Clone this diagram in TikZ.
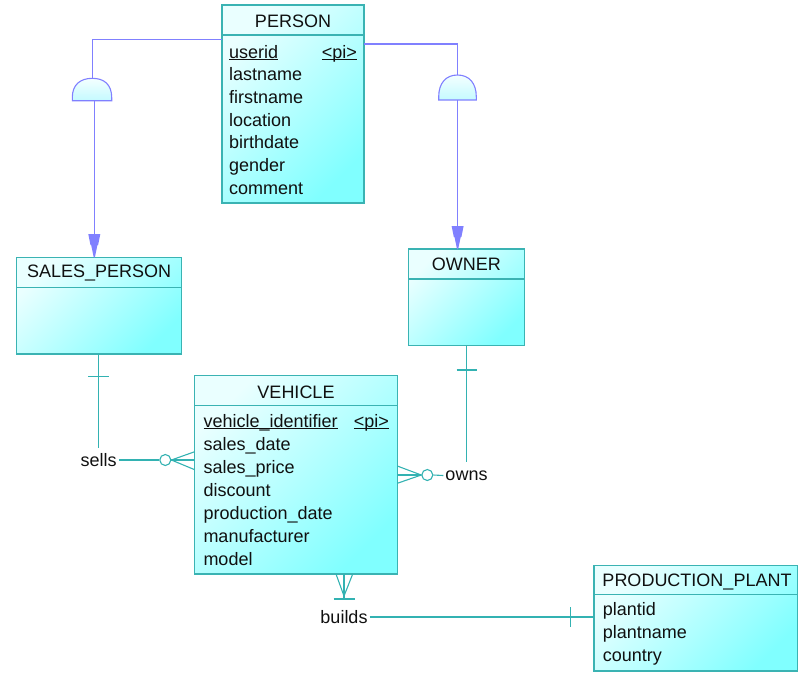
\documentclass[tikz,border=0pt]{standalone}
\usepackage{fontspec}
\setmainfont{Liberation Sans}
\usetikzlibrary{calc}
\definecolor{ent}{HTML}{3AB3B3}
\definecolor{relc}{HTML}{33B2B2}
\definecolor{inh}{HTML}{8080FF}
\definecolor{fillA}{HTML}{EAFFFF}
\definecolor{fillB}{HTML}{80FFFF}
\definecolor{domeA}{HTML}{F4FFFF}
\definecolor{domeB}{HTML}{C4FAFF}
\definecolor{txt}{HTML}{101010}
\newcommand\pdul[1]{\underline{\smash{#1}}}
\newcommand\pdfont{\fontsize{18}{21}\selectfont}
\begin{document}
\begin{tikzpicture}[x=1pt,y=-1pt,
  entbox/.style={draw=ent, line width=1.2pt, inner sep=0pt, outer sep=0pt,
    top color=fillA, bottom color=fillB, shading angle=45},
  hdr/.style={draw=ent, line width=1.2pt},
  ttl/.style={anchor=base, inner sep=0pt, font=\pdfont, text=txt},
  attr/.style={anchor=base west, inner sep=0pt, font=\pdfont, text=txt},
  pik/.style={anchor=base east, inner sep=0pt, font=\pdfont, text=txt},
  inhline/.style={draw=inh, line width=1.2pt},
  dome/.style={draw=inh, line width=1.1pt, top color=domeA, bottom color=domeB},
  relline/.style={draw=relc, line width=1.1pt},
  rcircle/.style={circle, draw=relc, fill=white, line width=1.1pt, minimum size=11pt, inner sep=0pt},
  rlabel/.style={inner sep=2pt, font=\pdfont, text=txt},
  inharrow/.pic={\fill[inh] (-6,0) -- (6,0) -- (3.8,11) -- (3.1,11) -- (0.7,22.5) -- (0,23.5) -- (-0.7,22.5) -- (-3.1,11) -- (-3.8,11) -- cycle;}
]
\useasboundingbox (0,0) rectangle (802,673);

% ---------- entities ----------
\node[entbox, minimum width=142pt, minimum height=198pt] (person) at (293,104) {};
\draw[hdr] ($(person.north west)+(0,30)$) -- ($(person.north east)+(0,30)$);
\node[ttl] (personT) at (293,27) {PERSON};
\node[attr] (pa1) at (229,58) {\pdul{userid}};
\node[pik] (ppi) at (357,58) {\pdul{<pi>}};
\foreach \t [count=\i from 2] in {lastname,firstname,location,birthdate,gender,comment}
  \node[attr] (pa\i) at (229,{58+22.7*(\i-1)}) {\t};

\node[entbox, minimum width=165pt, minimum height=96.3pt] (sp) at (99.2,305.85) {};
\draw[hdr] ($(sp.north west)+(0,30)$) -- ($(sp.north east)+(0,30)$);
\node[ttl] (spT) at (99.2,277.7) {SALES\_PERSON};

\node[entbox, minimum width=115.7pt, minimum height=96.3pt] (owner) at (466.4,297.15) {};
\draw[hdr] ($(owner.north west)+(0,30)$) -- ($(owner.north east)+(0,30)$);
\node[ttl] (ownerT) at (466.4,270) {OWNER};

\node[entbox, minimum width=202.6pt, minimum height=198.3pt] (vehicle) at (296,474.85) {};
\draw[hdr] ($(vehicle.north west)+(0,29.6)$) -- ($(vehicle.north east)+(0,29.6)$);
\node[ttl] (vehicleT) at (296,398.3) {VEHICLE};
\node[attr] (va1) at (203.3,427) {\pdul{vehicle\_identifier}};
\node[pik] (vpi) at (389,427) {\pdul{<pi>}};
\foreach \t [count=\i from 2] in {sales\_date,sales\_price,discount,production\_date,manufacturer,model}
  \node[attr] (va\i) at (203.3,{427+23.1*(\i-1)}) {\t};

\node[entbox, minimum width=203.3pt, minimum height=105.7pt] (pp) at (695.65,618.15) {};
\draw[hdr] ($(pp.north west)+(0,29.4)$) -- ($(pp.north east)+(0,29.4)$);
\node[ttl] (ppT) at (697,586) {PRODUCTION\_PLANT};
\foreach \t [count=\i from 1] in {plantid,plantname,country}
  \node[attr] (pla\i) at (602.7,{615+23*(\i-1)}) {\t};

% ---------- inheritance ----------
\coordinate (d1t) at (92.3,78.3);
\coordinate (d1b) at (94.3,100.7);
\draw[inhline] ($(person.north west)+(0,34.3)$) -| (d1t);
\draw[dome] (72.3,100.7) -- (72.3,97.5) .. controls (72.3,85) and (80,78.3) .. (92.3,78.3)
  .. controls (104.6,78.3) and (111.7,85) .. (111.7,97.5) -- (111.7,100.7) -- cycle;
\draw[inhline] (d1b) -- ($(sp.north -| d1b)+(0,-23)$);
\path (sp.north -| d1b) ++(0,-23.5) pic {inharrow};

\coordinate (d2t) at (457.4,75);
\coordinate (d2b) at (457.6,100);
\draw[inhline] ($(person.north east)+(0,39)$) -| (d2t);
\draw[dome] (438.7,100) -- (438.7,96.8) .. controls (438.7,83) and (446,75) .. (457.5,75)
  .. controls (469,75) and (476.3,83) .. (476.3,96.8) -- (476.3,100) -- cycle;
\draw[inhline] (d2b) -- ($(owner.north -| d2b)+(0,-22)$);
\path (owner.north -| d2b) ++(0,-23) pic {inharrow};

% ---------- sells ----------
\node[rlabel] (sells) at (98.7,460) {sells};
\draw[relline, shorten >=3pt] (sells.north |- sp.south) -- (sells.north);
\draw[relline] ($(sells.north |- sp.south)+(-10.5,22.7)$) -- ++(21,0);
\node[rcircle] (sc) at (165.3,460) {};
\draw[relline] (sells.east) -- (sc.west);
\draw[relline] ($(vehicle.west |- sc)+(0,-8.3)$) -- (sc.east) -- ($(vehicle.west |- sc)+(0,9.7)$);
\draw[relline] (sc.east) -- (vehicle.west |- sc);

% ---------- owns ----------
\node[rlabel] (owns) at (466.5,475.5) {owns};
\draw[relline, shorten >=6.5pt] (owns.north |- owner.south) -- (owns.north);
\draw[relline] ($(owns.north |- owner.south)+(-10,24.7)$) -- ++(20,0);
\node[rcircle] (oc) at (427.3,475) {};
\draw[relline] (owns.west) -- (oc.east);
\draw[relline] ($(vehicle.east |- oc)+(0,-9)$) -- (oc.west) -- ($(vehicle.east |- oc)+(0,8.3)$);
\draw[relline] (oc.west) -- (vehicle.east |- oc);

% ---------- builds ----------
\node[rlabel] (builds) at (344,617) {builds};
\coordinate (bt) at (builds.north |- vehicle.south);
\draw[relline] ($(bt)+(-8,0)$) -- ($(bt)+(0,22)$) -- ($(bt)+(8.7,0)$);
\draw[relline] (bt) -- ++(0,25);
\draw[relline] ($(bt)+(-10.5,25)$) -- ++(21,0);
\draw[relline] (builds.east) -- (builds.east -| pp.west);
\draw[relline] ($(builds.east -| pp.west)+(-23.3,-10)$) -- ++(0,20);
\end{tikzpicture}
\end{document}
